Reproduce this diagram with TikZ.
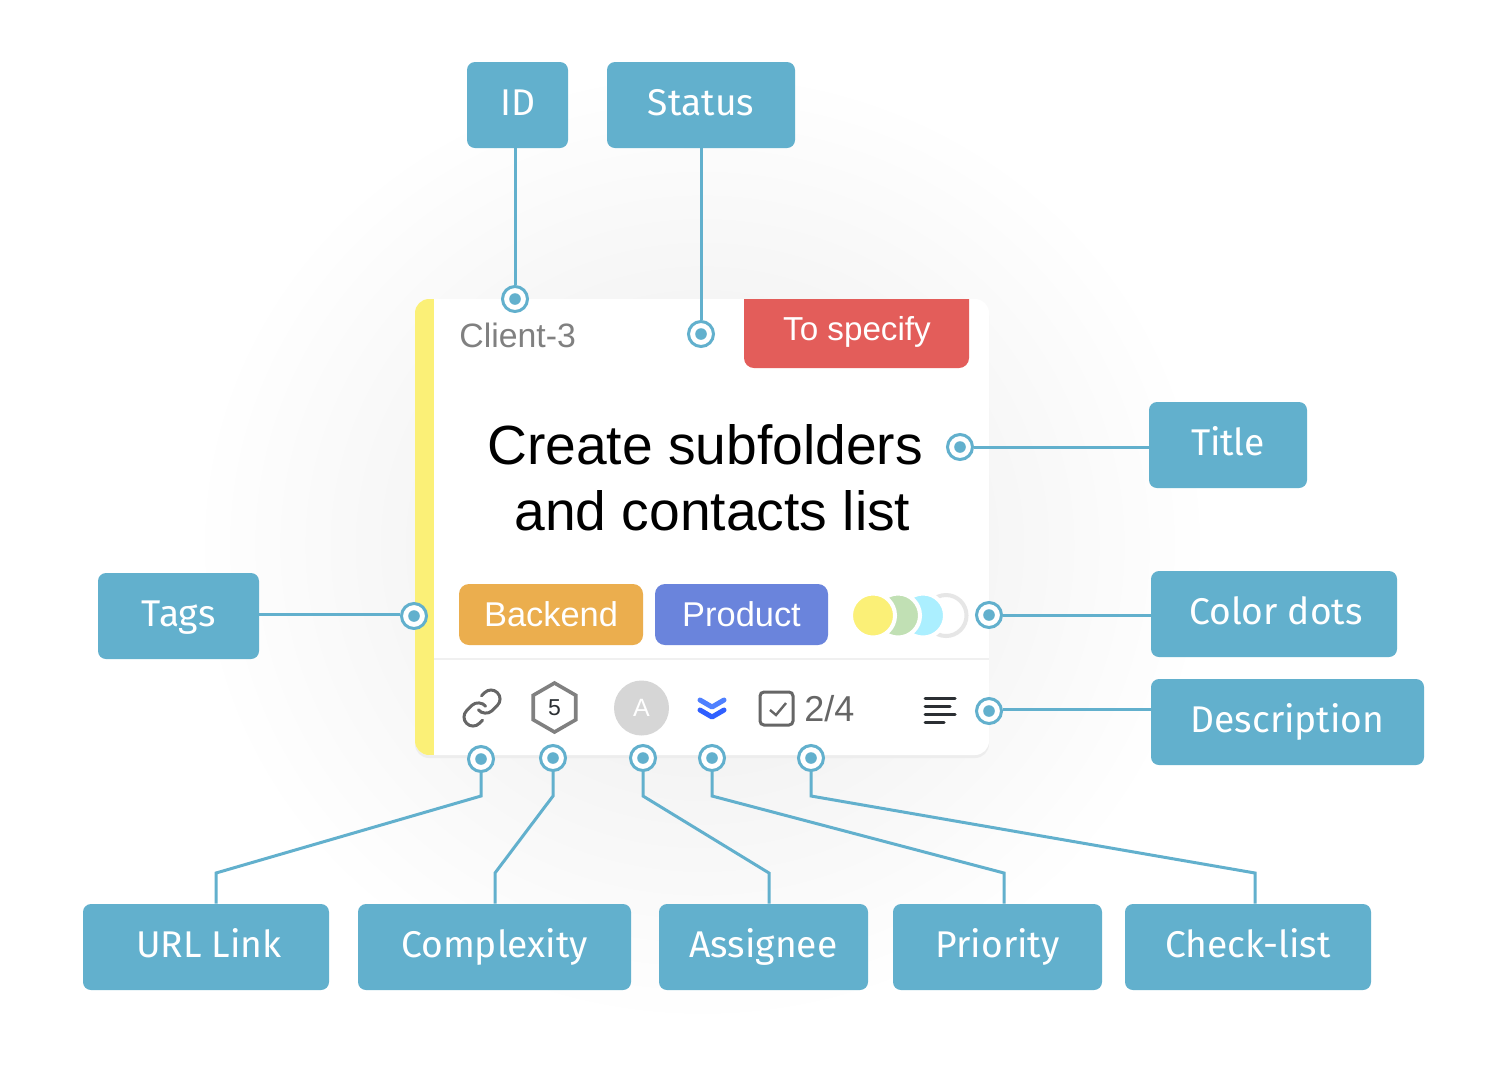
\documentclass[tikz,border=0pt]{standalone}
\usepackage{fontspec}
\setmainfont{Liberation Sans}
\newfontfamily\labelfont{Fira Sans}
\usetikzlibrary{calc,positioning,shapes.geometric}
\definecolor{leadblue}{HTML}{62B0CD}
\definecolor{stripyellow}{HTML}{FBF077}
\definecolor{statusred}{HTML}{E35D5A}
\definecolor{tagorange}{HTML}{EBAE4E}
\definecolor{tagblue}{HTML}{6A84DC}
\definecolor{dotgreen}{HTML}{C1E0B4}
\definecolor{dotcyan}{HTML}{ABEFFF}
\definecolor{ringgray}{HTML}{E6E6E6}
\definecolor{softgray}{HTML}{808080}
\definecolor{icongray}{HTML}{666666}
\definecolor{linedark}{HTML}{2B2F33}
\definecolor{glowgray}{HTML}{F2F2F2}
\definecolor{chevlight}{HTML}{4F80FF}
\definecolor{chevdark}{HTML}{2F5FFF}
\pgfdeclareradialshading{cardglow}{\pgfpoint{0bp}{0bp}}{
  color(0bp)=(glowgray); color(9bp)=(glowgray); color(25bp)=(white); color(50bp)=(white)}
\tikzset{
labelbox/.style={
  rectangle, rounded corners=4pt, fill=leadblue, text=white,
  font=\labelfont\fontsize{18.6}{23}\selectfont,
  minimum height=43pt, inner sep=0pt, text height=14pt, text depth=4pt
  },
leader/.style={
  leadblue, line width=1.5pt
  },
dotmark/.style={
  circle, draw=leadblue, line width=1.5pt, fill=white,
  minimum size=12.5pt, inner sep=0pt,
  path picture={\fill[leadblue] (path picture bounding box.center) circle (2.9pt);}
  },
tagbox/.style={
  rectangle, rounded corners=5pt, text=white, minimum height=30.5pt,
  inner sep=0pt, font=\fontsize{17.2}{20}\selectfont
  },
colordot/.style={
  circle, fill=#1, draw=white, line width=2pt,
  minimum size=22pt, inner sep=0pt
  }
}
\begin{document}
\begin{tikzpicture}[x=0.5pt,y=-0.5pt]
\useasboundingbox (0,0) rectangle (1507,1067);
\fill[white] (0,0) rectangle (1507,1067);

% soft glow and card
\shade[shading=cardglow] (702,545) ellipse (510 and 480);
\fill[black!7,rounded corners=7pt] (415,302) rectangle (989,758);
\fill[white,rounded corners=7pt] (415,299) rectangle (989,755);
\begin{scope}
  \clip[rounded corners=7pt] (415,299) rectangle (989,755);
  \fill[stripyellow] (415,299) rectangle (434,755);
\end{scope}
\draw[black!6,line width=1.2pt] (434,659) -- (989,659);

% status ribbon
\fill[statusred] (744,299) {[rounded corners=5pt] -- (744,368) -- (969,368)} -- (969,299) -- cycle;
\node[text=white,font=\fontsize{16.6}{20}\selectfont] (statustext) at (857,332) {To specify};
\node[text=softgray,anchor=west,inner sep=0pt,font=\fontsize{16.9}{20}\selectfont] (clientid) at (459,335) {Client-3};
\node[align=center,font=\fontsize{27.6}{33}\selectfont] (titletext) at (705,478)
  {Create subfolders\\\hspace*{7.5pt}and contacts list};

% tags
\node[tagbox,fill=tagorange,minimum width=92pt] (backendtag) at (551,614.5) {Backend};
\node[tagbox,fill=tagblue,minimum width=86.5pt] (producttag) at (741.5,614.5) {Product};

% color dots
\draw[ringgray,line width=2pt] (946,615.5) circle (10.25pt);
\node[colordot=dotcyan] (dotc) at (923,615.5) {};
\node[colordot=dotgreen] (dotb) at (898,615.5) {};
\node[colordot=stripyellow] (dota) at (873,615.5) {};

% footer icons
\begin{scope}[shift={(460.4,686.4)},scale=1.8,icongray,line width=1.5pt,line cap=round]
  \draw (10,13) .. controls (11.6,15.2) and (15.6,15.5) .. (17.54,13.54) -- (20.54,10.54)
    .. controls (22.5,8.6) and (22.5,5.4) .. (20.54,3.47)
    .. controls (18.6,1.5) and (15.4,1.5) .. (13.47,3.47) -- (11.75,5.18);
  \draw (14,11) .. controls (12.4,8.8) and (8.4,8.5) .. (6.46,10.46) -- (3.46,13.46)
    .. controls (1.5,15.4) and (1.5,18.6) .. (3.46,20.53)
    .. controls (5.4,22.5) and (8.6,22.5) .. (10.53,20.53) -- (12.25,18.82);
\end{scope}
\node[regular polygon,regular polygon sides=6,shape border rotate=30,draw=softgray,
  line width=1.8pt,minimum size=24.5pt,inner sep=0pt,text=linedark,
  font=\fontsize{11.5}{14}\selectfont] (hexscore) at (554.5,707.5) {5};
\node[circle,fill=black!16,text=white,minimum size=27.5pt,inner sep=0pt,
  font=\fontsize{12.5}{15}\selectfont] (avatar) at (641.5,708) {A};
\draw[chevlight,line width=2.5pt,line cap=round,line join=round]
  (700,700) -- (712,707) -- (724,700);
\draw[chevdark,line width=2.5pt,line cap=round,line join=round]
  (700,710) -- (712,717) -- (724,710);
\node[rectangle,draw=icongray,line width=1.5pt,rounded corners=2pt,minimum size=16.5pt,inner sep=0pt] (checkbox) at (776.5,708.5) {};
\draw[icongray,line width=1.2pt] (770,710) -- (776,715) -- (786,703);
\node[text=icongray,anchor=west,inner sep=0pt,font=\fontsize{18}{21}\selectfont] (checkcount) at (804,709) {2/4};
\draw[linedark,line width=1.5pt,line cap=round]
  (925,698) -- (955,698)
  (925,706) -- (950,706)
  (925,714) -- (955,714)
  (925,722) -- (944,722);

% label boxes
\node[labelbox,minimum width=50.5pt] (idbox) at (517.5,105) {ID};
\node[labelbox,minimum width=94pt] (statusbox) at (701,105) {Status};
\node[labelbox,minimum width=79pt] (titlebox) at (1228,445) {Title};
\node[labelbox,minimum width=80.5pt] (tagsbox) at (178.5,616) {Tags};
\node[labelbox,minimum width=123pt] (colorbox) at (1274,614) {\hspace*{2pt}Color dots};
\node[labelbox,minimum width=136.5pt] (descbox) at (1287.5,722) {Description};
\node[labelbox,minimum width=123pt] (linkbox) at (206,947) {\hspace*{3pt}URL Link};
\node[labelbox,minimum width=136.5pt] (complexbox) at (494.5,947) {Complexity};
\node[labelbox,minimum width=104.5pt] (assignbox) at (763.5,947) {Assignee};
\node[labelbox,minimum width=104.5pt] (prioritybox) at (997.5,947) {Priority};
\node[labelbox,minimum width=123pt] (checkbox2) at (1248,947) {Check-list};

% markers
\node[dotmark] (iddot) at (515,299) {};
\node[dotmark] (statusdot) at (701,334) {};
\node[dotmark] (titledot) at (960,447) {};
\node[dotmark] (tagsdot) at (414,616) {};
\node[dotmark] (colordot1) at (989,615) {};
\node[dotmark] (descdot) at (989,711) {};
\node[dotmark] (linkdot) at (481,759) {};
\node[dotmark] (complexdot) at (553,758) {};
\node[dotmark] (assigndot) at (643,758) {};
\node[dotmark] (prioritydot) at (712,758) {};
\node[dotmark] (checkdot) at (811,758) {};

% bends of the lower leaders
\coordinate (linkbend) at (216,873);
\coordinate (complexbend) at (495,873);
\coordinate (assignbend) at (769,873);
\coordinate (prioritybend) at (1004,873);
\coordinate (checkbend) at (1255,873);
\coordinate (tagsend) at ([yshift=1pt]tagsdot.center);
\coordinate (descend) at ([yshift=1pt]descdot.center);

% leaders
\draw[leader] (idbox.south -| iddot) -- (iddot);
\draw[leader] (statusbox.south -| statusdot) -- (statusdot);
\draw[leader] (titledot) -- (titledot -| titlebox.west);
\draw[leader] (tagsend -| tagsdot.west) -- (tagsend -| tagsbox.east);
\draw[leader] (colordot1) -- (colordot1 -| colorbox.west);
\draw[leader] (descend -| descdot.east) -- (descend -| descbox.west);
\draw[leader] (linkdot) -- ++(0,37) -- (linkbend) -- (linkbend |- linkbox.north);
\draw[leader] (complexdot) -- ++(0,38) -- (complexbend) -- (complexbend |- complexbox.north);
\draw[leader] (assigndot) -- ++(0,38) -- (assignbend) -- (assignbend |- assignbox.north);
\draw[leader] (prioritydot) -- ++(0,38) -- (prioritybend) -- (prioritybend |- prioritybox.north);
\draw[leader] (checkdot) -- ++(0,38) -- (checkbend) -- (checkbend |- checkbox2.north);

\end{tikzpicture}
\end{document}
